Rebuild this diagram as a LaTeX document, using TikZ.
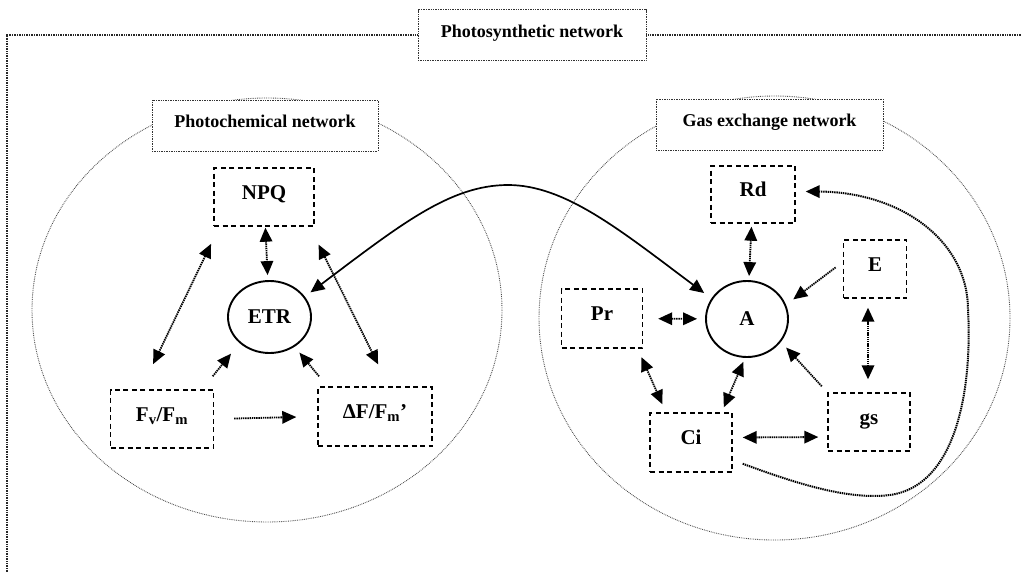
\documentclass[tikz,border=0pt]{standalone}
\usepackage{fontspec}
\setmainfont{Liberation Serif}
\usepackage{tikz}
\usetikzlibrary{arrows.meta,shapes.geometric,calc}

\begin{document}
\begin{tikzpicture}[x=1pt,y=-1pt,
    netfont/.style={font=\bfseries\fontsize{18}{21}\selectfont},
    varfont/.style={font=\bfseries\fontsize{21}{24}\selectfont},
    netbox/.style={draw=black!80,line width=0.9pt,dash pattern=on 0.9pt off 0.8pt,
        fill=white,inner sep=0pt,text height=12pt,text depth=8pt,netfont},
    varbox/.style={draw,line width=1.4pt,dash pattern=on 5pt off 3.5pt,inner sep=0pt,
        text height=14pt,text depth=10pt,varfont},
    hub/.style={draw,ellipse,line width=1.9pt,inner sep=0pt,varfont},
    link/.style={line width=1.8pt,dash pattern=on 1.4pt off 0.8pt},
    zone/.style={draw=black!70,line width=0.9pt,dash pattern=on 0.8pt off 1pt},
    frameline/.style={draw=black!85,line width=1.1pt,dash pattern=on 1pt off 0.7pt}]
\useasboundingbox (0,0) rectangle (1022,573);

    \draw[zone] (267,310) ellipse [x radius=235, y radius=212];
    \draw[zone] (774.5,318) ellipse [x radius=235.5, y radius=222];

    \node[netbox,minimum width=228pt,minimum height=51pt] (photosyn) at (532,35) {Photosynthetic network};
    \node[netbox,minimum width=226pt,minimum height=51pt] (photochem) at (265,125.5) {Photochemical network};
    \node[netbox,minimum width=227pt,minimum height=51pt] (gasex) at (769.5,124.5) {Gas exchange network};
    \draw[frameline] (photosyn.west) -- (7,35) -- (7,573);
    \draw[frameline] (photosyn.east) -- (1022,35);

    \node[varbox,minimum width=100pt,minimum height=58pt] (NPQ) at (264,197) {NPQ};
    \node[hub,minimum width=83pt,minimum height=72pt] (ETR) at (269.5,317) {ETR};
    \node[varbox,minimum width=103pt,minimum height=58pt] (FvFm) at (162,419) {F\textsubscript{v}/F\textsubscript{m}};
    \node[varbox,minimum width=114pt,minimum height=59pt] (dFFm) at (375,416.5) {ΔF/F\textsubscript{m}’};

    \node[varbox,minimum width=84pt,minimum height=57pt] (Rd) at (753,194.5) {Rd};
    \node[hub,minimum width=82pt,minimum height=76pt] (A) at (747,319) {A};
    \node[varbox,minimum width=63pt,minimum height=58pt] (E) at (875,269) {E};
    \node[varbox,minimum width=81pt,minimum height=59pt] (Pr) at (602,318.5) {Pr};
    \node[varbox,minimum width=82pt,minimum height=59pt] (Ci) at (691,442.5) {Ci};
    \node[varbox,minimum width=82pt,minimum height=58pt] (gs) at (869,422) {gs};

\begin{scope}[>={Triangle[length=14pt,width=12.5pt]}]
    \draw[link,<->,shorten <=1pt,shorten >=5pt] (NPQ) -- (ETR);
    \draw[link,<->,shorten <=19pt,shorten >=28pt] ([xshift=6pt]NPQ.south west) -- ([xshift=-21pt]FvFm.north);
    \draw[link,<->,shorten <=20pt,shorten >=24.5pt] ([xshift=-5pt]NPQ.south east) -- ([xshift=14pt]dFFm.north);
    \draw[link,->,shorten <=16.7pt,shorten >=13.5pt] ([xshift=-12pt]FvFm.north east) -- (ETR.south west);
    \draw[link,->,shorten <=13pt,shorten >=12.4pt] ([xshift=10pt]dFFm.north west) -- ([xshift=-8pt]ETR.south east);
    \draw[link,->,shorten <=20pt,shorten >=21pt] (FvFm.east) -- (dFFm.west);

    \draw[link,<->,shorten <=3pt,shorten >=4pt] (Rd) -- (A);
    \draw[link,->,shorten <=9pt,shorten >=9pt] ([yshift=7pt]E.west) -- (A.20);
    \draw[link,<->,shorten <=15pt,shorten >=8pt] (Pr) -- (A);
    \draw[link,<->,shorten <=9pt,shorten >=13pt] ([xshift=-7pt]E.south) -- ([xshift=-1pt]gs.north);
    \draw[link,<->,shorten <=9.3pt,shorten >=8.8pt] ([xshift=-5.5pt]Pr.south east) -- ([xshift=16.6pt]Ci.north west);
    \draw[link,<->,shorten <=5.4pt,shorten >=4.3pt] ([xshift=-11pt]Ci.north east) -- ([xshift=-2pt]A.south);
    \draw[link,->,shorten <=8.2pt,shorten >=7.7pt] (gs.north west) -- (A.-34);
    \draw[link,<->,shorten <=10pt,shorten >=9pt] ([yshift=5pt]Ci.east) -- ([yshift=-15pt]gs.west);

    \draw[link,line width=2pt,->] ($(Ci.south east)+(10,-9)$) .. controls (800,485) and (850,500) .. (890,495)
        .. controls (960,485) and (972,380) .. (968,310)
        .. controls (968,240) and (900,192) .. ($(Rd.east)+(10,-3)$);

    \draw[line width=1.7pt,<->,shorten <=7pt,shorten >=9pt] (ETR.30) .. controls (400,225) and (450,185) .. (508,185)
        .. controls (565,185) and (620,230) .. (A.150);
\end{scope}
\end{tikzpicture}
\end{document}
